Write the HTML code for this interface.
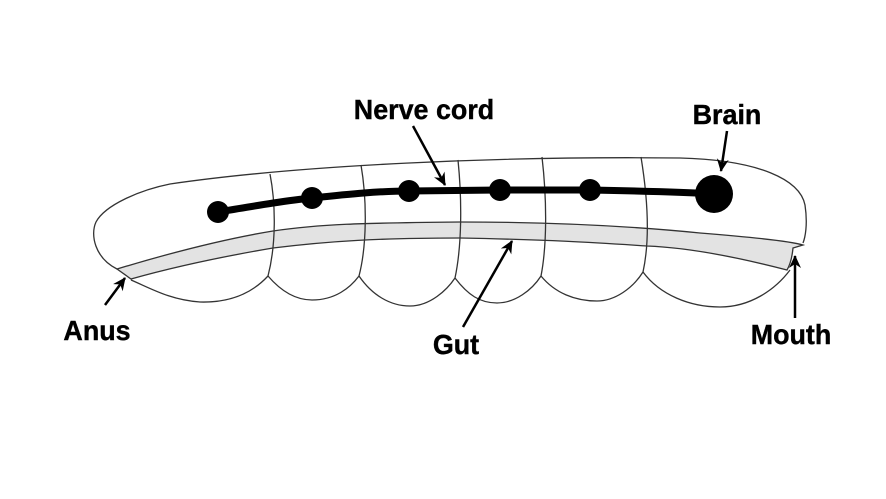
<!DOCTYPE html>
<html><head><style>body{margin:0;background:#fff}svg{display:block}
text{font-family:"Liberation Sans",sans-serif;font-weight:bold;font-size:28px;fill:#000;stroke:#000;stroke-width:0.4}</style></head>
<body><svg width="886" height="499" viewBox="0 0 886 499">
<defs><marker id="a" markerWidth="14" markerHeight="14" refX="12" refY="7" orient="auto" markerUnits="userSpaceOnUse"><path d="M0,1 L13,7 L0,13 L4,7z" fill="#000"/></marker></defs>
<g fill="none" stroke="#333" stroke-width="1.3">
<path d="M117,269 C95,258 90,235 96,222 C105,205 140,190 170,184 C300,165 500,156 680,158 C760,160 800,180 805,205 C808,225 805,238 803,243"/>
<path d="M117,269 C180,250 230,238 273,231 C320,224 360,223 460,222 C560,222 640,227 700,233 C750,237 790,241 803,245 L793,248 C792,258 790,265 787,270 C760,263 700,248 647,246 C600,243 560,240 460,238 C380,238 330,241 273,248 C220,257 170,268 131,279 Z" fill="#e3e3e3"/>
<path d="M131,280 C150,288 170,300 200,302 C235,303 255,290 268,276 C280,290 295,300 312,300 C335,300 350,288 359,276 C372,295 390,306 410,306 C430,306 447,290 455,278 C468,295 480,303 497,303 C515,303 532,290 541,276 C555,293 575,301 597,301 C615,301 633,288 643,272 C660,295 690,307 720,307 C750,307 775,290 790,270"/>
<path d="M270,174 C276,205 276,245 268,276"/>
<path d="M361,165 C367,200 367,245 359,276"/>
<path d="M458,160 C462,200 462,245 455,278"/>
<path d="M542,157 C547,200 547,245 541,276"/>
<path d="M641,157 C648,200 650,240 643,272"/>
</g>
<path d="M218,212 C260,205 290,200 312,198 C350,194 380,191 409,191 L500,190 L590,190 C640,191 680,192 714,194" fill="none" stroke="#000" stroke-width="7"/>
<g fill="#000"><circle cx="218" cy="212" r="11"/><circle cx="312" cy="198" r="11"/><circle cx="409" cy="191" r="11"/><circle cx="500" cy="190" r="11"/><circle cx="590" cy="190" r="11"/><circle cx="714" cy="194" r="19"/></g>
<g stroke="#000" stroke-width="2.5" marker-end="url(#a)">
<line x1="413" y1="126" x2="445" y2="185"/>
<line x1="727" y1="131" x2="721" y2="171"/>
<line x1="105" y1="305" x2="125" y2="278"/>
<line x1="463" y1="327" x2="512" y2="241"/>
<line x1="795" y1="318" x2="795" y2="256"/>
</g>
<text x="424" y="119" text-anchor="middle" transform="translate(424,0) scale(0.96,1) translate(-424,0)">Nerve cord</text>
<text x="727" y="124" text-anchor="middle" transform="translate(727,0) scale(0.96,1) translate(-727,0)">Brain</text>
<text x="97" y="340" text-anchor="middle" transform="translate(97,0) scale(0.96,1) translate(-97,0)">Anus</text>
<text x="456" y="354" text-anchor="middle" transform="translate(456,0) scale(0.96,1) translate(-456,0)">Gut</text>
<text x="791" y="344" text-anchor="middle" transform="translate(791,0) scale(0.96,1) translate(-791,0)">Mouth</text>
</svg></body></html>
